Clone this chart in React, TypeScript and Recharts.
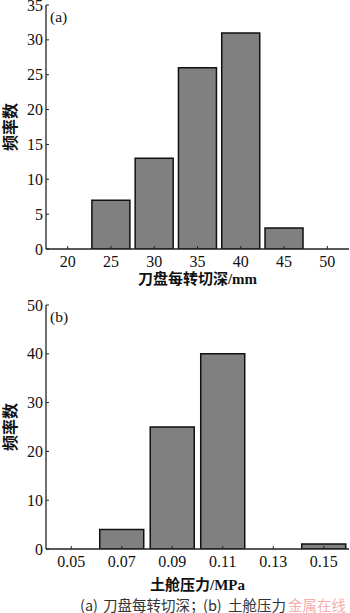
import React from 'react';
import { BarChart, Bar, XAxis, YAxis } from 'recharts';

const depthCategories = ['20', '25', '30', '35', '40', '45', '50'];
const depthCounts = [0, 7, 13, 26, 31, 3, 0];
const depthTicks = [0, 5, 10, 15, 20, 25, 30, 35];

const pressureCategories = ['0.05', '0.07', '0.09', '0.11', '0.13', '0.15'];
const pressureCounts = [0, 4, 25, 40, 0, 1];
const pressureTicks = [0, 10, 20, 30, 40, 50];

const yTitle = '频率数';
const depthTitle = '刀盘每转切深/mm';
const pressureTitle = '土舱压力/MPa';
const panelA = '(a)';
const panelB = '(b)';
const captionParts = ['(a)', '刀盘每转切深；', '(b)', '土舱压力'];
const watermark = '金属在线';

const depthData = depthCategories.map((c, i) => ({ x: c, v: depthCounts[i] }));
const pressureData = pressureCategories.map((c, i) => ({ x: c, v: pressureCounts[i] }));

const SERIF = "'Liberation Serif', 'Times New Roman', 'DejaVu Serif', 'Noto Sans CJK SC', serif";
const SANS = "'Noto Sans CJK SC', 'Liberation Sans', sans-serif";
const AXIS = '#222';
const TICK_FS = 16;

const XTick = (p: any) => (
  <text
    x={p.x}
    y={p.y}
    dy="0.71em"
    textAnchor="middle"
    fontSize={TICK_FS}
    fill="#111"
    style={{ fontFamily: SERIF }}
  >
    {p.payload.value}
  </text>
);

const YTick = (p: any) => (
  <text
    x={p.x}
    y={p.y}
    dy="0.35em"
    textAnchor="end"
    fontSize={TICK_FS}
    fill="#111"
    style={{ fontFamily: SERIF }}
  >
    {p.payload.value}
  </text>
);

const makeYLabel = (panel: string) => (p: any) => {
  const vb = p.viewBox || {};
  const cx = 10.5;
  const cy = vb.y + vb.height / 2;
  return (
    <g>
      <text
        x={cx}
        y={cy}
        transform={`rotate(-90 ${cx} ${cy})`}
        textAnchor="middle"
        dominantBaseline="central"
        fontSize={16}
        fontWeight="bold"
        fill="#111"
        style={{ fontFamily: SERIF }}
      >
        {yTitle}
      </text>
      <text
        x={vb.x + vb.width + 4}
        y={vb.y + 11.5}
        dominantBaseline="central"
        fontSize={15.5}
        fill="#111"
        style={{ fontFamily: SERIF }}
      >
        {panel}
      </text>
    </g>
  );
};

const makeXLabel = (title: string, dy: number, withCaption: boolean) => (p: any) => {
  const vb = p.viewBox || {};
  const cy = vb.y + 55;
  return (
    <g>
      <text
        x={vb.x + vb.width / 2}
        y={vb.y + dy}
        textAnchor="middle"
        dominantBaseline="central"
        fontSize={15}
        fontWeight="bold"
        fill="#111"
        style={{ fontFamily: SERIF }}
      >
        {title}
      </text>
      {withCaption ? (
        <g>
          <text
            x={288}
            y={cy}
            dominantBaseline="central"
            fontSize={14.5}
            fill="#f2a0a0"
            fillOpacity={0.85}
            style={{ fontFamily: SANS }}
          >
            {watermark}
          </text>
          <text
            y={cy}
            dominantBaseline="central"
            fontSize={14.5}
            fill="#333"
            style={{ fontFamily: SANS }}
          >
            <tspan x={80}>{captionParts[0]}</tspan>
            <tspan x={103}>{captionParts[1]}</tspan>
            <tspan x={203}>{captionParts[2]}</tspan>
            <tspan x={228}>{captionParts[3]}</tspan>
          </text>
        </g>
      ) : null}
    </g>
  );
};

function Panel(props: {
  data: any[];
  height: number;
  xHeight: number;
  domain: [number, number];
  ticks: number[];
  title: string;
  titleDy: number;
  panel: string;
  caption: boolean;
  gap: string;
}) {
  const { data, height, xHeight, domain, ticks, title, titleDy, panel, caption, gap } = props;
  return (
    <BarChart
      width={350}
      height={height}
      data={data}
      margin={{ top: 5, right: 1, bottom: 0, left: 0 }}
      barCategoryGap={gap}
      style={{ fontFamily: SERIF }}
    >
      <XAxis
        dataKey="x"
        height={xHeight}
        tick={XTick}
        tickSize={-3}
        tickMargin={10}
        interval={0}
        axisLine={{ stroke: AXIS, strokeWidth: 1.3 }}
        tickLine={{ stroke: AXIS }}
        label={{ content: makeXLabel(title, titleDy, caption) }}
      />
      <XAxis
        xAxisId="top"
        dataKey="x"
        orientation="top"
        height={0}
        tick={false}
        tickLine={false}
        axisLine={{ stroke: AXIS, strokeWidth: 1.3 }}
      />
      <YAxis
        width={46}
        domain={domain}
        ticks={ticks}
        interval={0}
        allowDataOverflow
        tick={YTick}
        tickSize={-3}
        tickMargin={6}
        axisLine={{ stroke: AXIS, strokeWidth: 1.3 }}
        tickLine={{ stroke: AXIS }}
        label={{ content: makeYLabel(panel) }}
      />
      <YAxis
        yAxisId="right"
        orientation="right"
        width={0}
        domain={domain}
        tick={false}
        tickLine={false}
        axisLine={{ stroke: AXIS, strokeWidth: 1.3 }}
      />
      <Bar dataKey="v" fill="#808080" stroke="#111" strokeWidth={1.5} isAnimationActive={false} />
    </BarChart>
  );
}

export default function App() {
  return (
    <div
      style={{
        position: 'absolute',
        left: 0,
        top: 0,
        width: 350,
        height: 613,
        background: '#fff',
        fontFamily: SERIF,
      }}
    >
      <div style={{ position: 'absolute', left: 0, top: 0 }}>
        <Panel
          data={depthData}
          height={300}
          xHeight={51}
          domain={[0, 35]}
          ticks={depthTicks}
          title={depthTitle}
          titleDy={30}
          panel={panelA}
          caption={false}
          gap="6%"
        />
      </div>
      <div style={{ position: 'absolute', left: 0, top: 300 }}>
        <Panel
          data={pressureData}
          height={313}
          xHeight={64}
          domain={[0, 50]}
          ticks={pressureTicks}
          title={pressureTitle}
          titleDy={36}
          panel={panelB}
          caption={true}
          gap="6.4%"
        />
      </div>
    </div>
  );
}
